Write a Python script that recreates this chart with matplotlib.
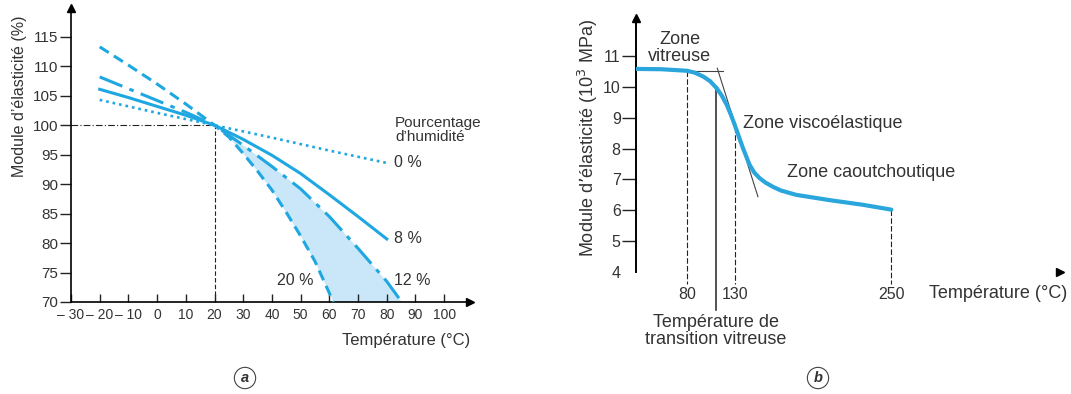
import numpy as np
import matplotlib
matplotlib.use("Agg")
import matplotlib.pyplot as plt

plt.rcParams["font.family"] = ["Liberation Sans", "DejaVu Sans"]

BLEU = "#1ea7e1"
TEXTE = "#333333"

# --- (a) module vs température, selon humidité ---
temp_0 = [-20, 0, 20, 40, 60, 80]
mod_0 = [104.3, 102.1, 100.0, 97.9, 95.7, 93.6]
temp_8 = [-20, -10, 0, 10, 20, 30, 40, 50, 60, 70, 80]
mod_8 = [106.1, 104.7, 103.2, 101.7, 100.0, 97.6, 94.9, 91.8, 88.2, 84.5, 80.7]
temp_12 = [-20, -10, 0, 10, 20, 30, 40, 50, 60, 70, 80, 85.2]
mod_12 = [108.2, 106.2, 104.2, 102.2, 100.0, 96.6, 93.0, 89.2, 84.5, 79.1, 73.5, 70.0]
temp_20 = [-20, -10, 0, 10, 20, 25, 30, 35, 40, 45, 50, 55, 61.4]
mod_20 = [113.3, 110.2, 107.0, 103.6, 100.0, 98.0, 95.2, 92.2, 89.0, 85.2, 81.2, 76.9, 70.0]
humid_labels = ["0 %", "8 %", "12 %", "20 %"]
xticks_a = [-30, -20, -10, 0, 10, 20, 30, 40, 50, 60, 70, 80, 90, 100]
xlabels_a = ["– 30", "– 20", "– 10", "0", "10", "20", "30", "40", "50",
             "60", "70", "80", "90", "100"]
yticks_a = [70, 75, 80, 85, 90, 95, 100, 105, 110, 115]

# --- (b) courbe type d'un polymère ---
temp_b = [20, 50, 80, 88, 97, 104, 110.8, 116, 121.1, 125, 129.3, 132.5, 135.8,
          140.9, 144.5, 148.6, 153, 158.8, 165, 176.7, 202.2, 227.7, 250]
mod_b = [10.58, 10.57, 10.52, 10.46, 10.33, 10.18, 9.95, 9.71, 9.41, 9.12, 8.76,
         8.40, 8.01, 7.47, 7.22, 7.04, 6.90, 6.76, 6.64, 6.50, 6.33, 6.18, 6.02]
yticks_b = [4, 5, 6, 7, 8, 9, 10, 11]
xticks_b = [80, 130, 250]
temp_tg = 110

# échelle schématique (l'axe d'origine n'est pas linéaire)
T_anchor = [20, 80, 130, 250, 380]
u_anchor = [0, 51, 99.7, 256, 425]


def fwd(t):
    return np.interp(t, T_anchor, u_anchor)


def inv(u):
    return np.interp(u, u_anchor, T_anchor)


W, H = 1071, 394
fig = plt.figure(figsize=(W / 100, H / 100), dpi=100)


def box(x0, y0, x1, y1):
    # pixels (haut-gauche) -> fraction figure
    return [x0 / W, 1 - y1 / H, (x1 - x0) / W, (y1 - y0) / H]


# ================= (a) =================
ax = fig.add_axes(box(71, 8, 470, 302))
ax.set_xlim(-30, 109)
ax.set_ylim(70, 119.9)
for s in ["top", "right"]:
    ax.spines[s].set_visible(False)
ax.spines["left"].set_linewidth(1.2)
ax.spines["bottom"].set_linewidth(1.2)
ax.plot(1, 0, ">k", ms=6, transform=ax.transAxes, clip_on=False)
ax.plot(0, 1, "^k", ms=6, transform=ax.transAxes, clip_on=False)

ax.set_xticks(xticks_a)
ax.set_xticklabels(xlabels_a)
ax.set_yticks(yticks_a)
ax.tick_params(axis="x", direction="in", length=6, width=1, colors="#222222",
               labelcolor=TEXTE, labelsize=10, pad=4)
ax.tick_params(axis="y", direction="out", length=8, width=1, colors="#222222",
               labelcolor=TEXTE, labelsize=11, pad=1)

# repères 20 °C / 100 %
ax.plot([-30, 20], [100, 100], color="#222222", lw=0.8, ls=(0, (6, 2, 1, 2)))
ax.plot([20, 20], [70, 100], color="#222222", lw=0.8, ls=(0, (4, 2)))

# zone entre 20 % et 12 %
ax.fill(temp_20[4:] + temp_12[4:][::-1], mod_20[4:] + mod_12[4:][::-1],
        color="#c9e7f8", lw=0, zorder=1)

ax.plot(temp_0, mod_0, color=BLEU, lw=1.9, ls=(0, (1, 1.5)), zorder=3)
ax.plot(temp_8, mod_8, color=BLEU, lw=2.2, zorder=3)
ax.plot(temp_12, mod_12, color=BLEU, lw=2.2, ls=(0, (8, 2.5, 1.5, 2.5)), zorder=3)
ax.plot(temp_20, mod_20, color=BLEU, lw=2.2, ls=(0, (3.5, 2)), zorder=3)

ax.text(82.9, 99.2, "Pourcentage\nd’humidité", fontsize=11, color=TEXTE,
        va="center", ha="left", linespacing=1.0)
ax.text(82.5, mod_0[-1], humid_labels[0], fontsize=11.5, color=TEXTE, va="center")
ax.text(82.5, mod_8[-1], humid_labels[1], fontsize=11.5, color=TEXTE, va="center")
ax.text(82.5, 73.7, humid_labels[2], fontsize=11.5, color=TEXTE, va="center")
ax.text(54.5, 73.7, humid_labels[3], fontsize=11.5, color=TEXTE, va="center", ha="right")

ax.set_ylabel("Module d’élasticité (%)", fontsize=11.5, color=TEXTE)
ax.yaxis.set_label_coords(-0.11, 0.70)
ax.text(1.0, -0.13, "Température (°C)", transform=ax.transAxes, fontsize=12,
        color=TEXTE, ha="right", va="center")

# ================= (b) =================
bx = fig.add_axes(box(636, 18, 1060, 272))
bx.set_xscale("function", functions=(fwd, inv))
bx.set_xlim(20, 380)
bx.set_ylim(4, 12.23)
for s in ["top", "right", "bottom"]:
    bx.spines[s].set_visible(False)
bx.spines["left"].set_linewidth(1.4)
bx.plot(1, 0, ">k", ms=6, transform=bx.transAxes, clip_on=False)
bx.plot(0, 1, "^k", ms=6, transform=bx.transAxes, clip_on=False)

bx.set_yticks(yticks_b)
bx.tick_params(axis="y", direction="out", length=10, width=1, colors="#222222",
               labelcolor=TEXTE, labelsize=11.5, pad=1)
bx.yaxis.get_major_ticks()[0].tick1line.set_visible(False)
bx.set_xticks(xticks_b)
bx.tick_params(axis="x", length=0, labelcolor=TEXTE, labelsize=11.5, pad=11)

# tangentes
bx.plot([80, 117.6], [10.51, 10.51], color="#444444", lw=0.8)
bx.plot([111.3, 147.3], [10.6, 6.44], color="#444444", lw=0.8)

# lignes verticales
bx.plot([80, 80], [mod_b[2], 3.6], color="#222222", lw=0.8, ls=(0, (5, 2)), clip_on=False)
bx.plot([130, 130], [8.7, 3.6], color="#222222", lw=0.8, ls=(0, (5, 2)), clip_on=False)
bx.plot([250, 250], [mod_b[-1], 3.6], color="#222222", lw=0.8, ls=(0, (5, 2)), clip_on=False)
bx.plot([temp_tg, temp_tg], [9.9, 2.77], color="#222222", lw=1.1, clip_on=False)

bx.plot(temp_b, mod_b, color="#2aa6dd", lw=3, solid_capstyle="round",
        solid_joinstyle="round", zorder=3)

bx.text(71.8, 11.26, "Zone\nvitreuse", fontsize=13, color=TEXTE, ha="center",
        va="center", linespacing=1.0)
bx.text(135.6, 8.8, "Zone viscoélastique", fontsize=13, color=TEXTE, va="center")
bx.text(169.8, 7.21, "Zone caoutchoutique", fontsize=13, color=TEXTE, va="center")
bx.text(temp_tg, 2.65, "Température de\ntransition vitreuse", fontsize=13,
        color=TEXTE, ha="center", va="top", linespacing=1.0)
bx.text(279, 3.3, "Température (°C)", fontsize=13, color=TEXTE, va="center")

bx.set_ylabel("Module d’élasticité (10$^3$ MPa)", fontsize=13, color=TEXTE)
bx.yaxis.set_label_coords(-0.085, 0.53)

# repères (a) et (b)
for xc, lab in [(245, "a"), (818, "b")]:
    fig.text(xc / W, 1 - 378 / H, lab, fontsize=10.5, fontstyle="italic",
             fontweight="bold", color=TEXTE, ha="center", va="center",
             bbox=dict(boxstyle="circle,pad=0.25", fc="white", ec="#444444", lw=0.8))

fig.savefig("out.png", dpi=100)
